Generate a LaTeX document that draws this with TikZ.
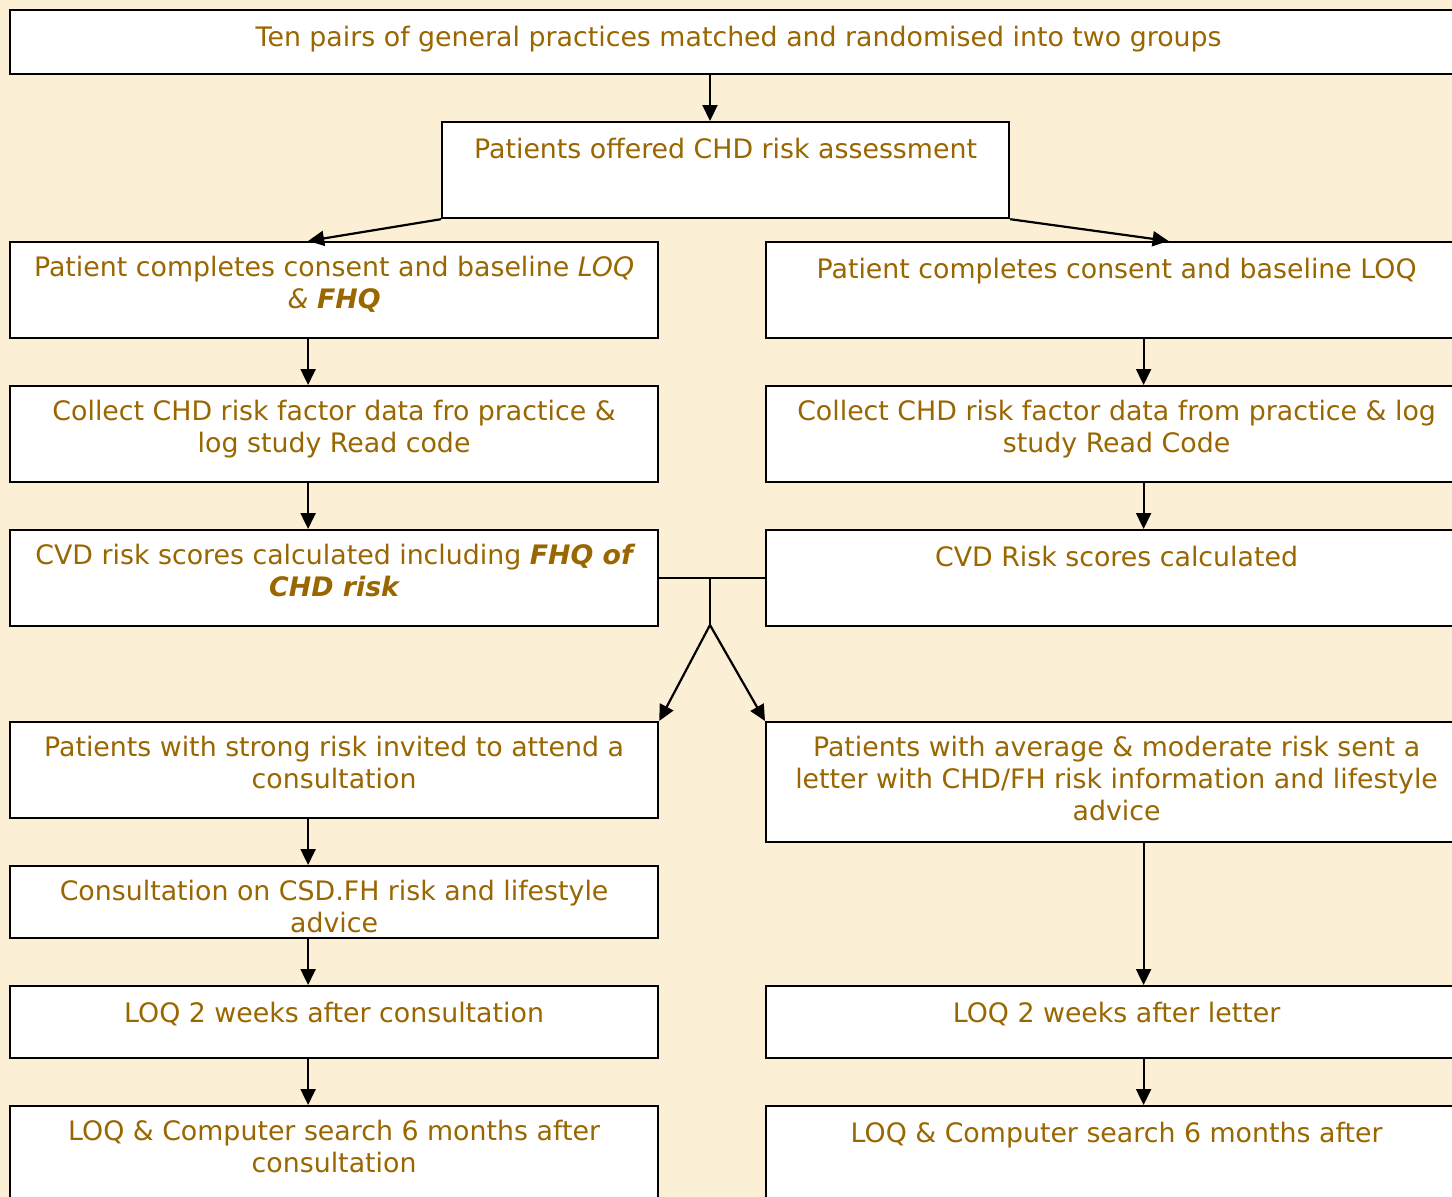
\documentclass[tikz,border=0pt]{standalone}
\usepackage{fontspec}
\setmainfont{DejaVu Sans}
\usepackage{xcolor}
\usetikzlibrary{arrows.meta,positioning}
\definecolor{parch}{RGB}{251,240,214}
\definecolor{gold}{RGB}{153,102,0}

\begin{document}
\begin{tikzpicture}[
      x=1pt, y=-1pt,
      box/.style={rectangle, draw=black, line width=2.2pt, fill=white,
                  anchor=north west, minimum height=96pt, inner sep=0pt},
      lbox/.style={box, minimum width=648pt},
      rbox/.style={box, minimum width=701pt},
      txt/.style={anchor=north, align=center, inner sep=0pt, text=gold,
                  font=\fontsize{26.8}{32}\selectfont, execute at begin node=\strut},
      arr/.style={-{Triangle[length=16pt, width=15pt]}, line width=2.2pt}
    ]
    \useasboundingbox (0,0) rectangle (1452,1197);
    \clip (0,0) rectangle (1452,1197);
    \fill[parch] (0,0) rectangle (1452,1197);
    \coordinate (jn) at (710,577);
    \coordinate (fk) at (710,625);
    % boxes
    \node[box, minimum width=1457pt, minimum height=64pt] (t1) at (9,9) {};
    \node[box, minimum width=567pt] (t2) at (441,121) {};
    \node[lbox] (a1) at (9,241) {};
    \node[rbox] (b1) at (765,241) {};
    \node[lbox] (a2) at (9,385) {};
    \node[rbox] (b2) at (765,385) {};
    \node[lbox] (a3) at (9,529) {};
    \node[rbox] (b3) at (765,529) {};
    \node[lbox] (a4) at (9,721) {};
    \node[rbox, minimum height=120pt] (b4) at (765,721) {};
    \node[lbox, minimum height=72pt] (a5) at (9,865) {};
    \node[lbox, minimum height=72pt] (a6) at (9,985) {};
    \node[rbox, minimum height=72pt] (b5) at (765,985) {};
    \node[lbox, minimum height=120pt] (a7) at (9,1105) {};
    \node[rbox, minimum height=120pt] (b6) at (765,1105) {};
    % connectors
    \draw[arr] (t1.south -| jn) -- (t2.north -| jn);
    \draw[arr] (t2.south west) -- ([xshift=-26pt]a1.north);
    \draw[arr] (t2.south east) -- ([xshift=52pt]b1.north);
    \foreach \u/\v in {a1/a2, a2/a3, a4/a5, a5/a6, a6/a7}
      \draw[arr] ([xshift=-26pt]\u.south) -- ([xshift=-26pt]\v.north);
    \foreach \u/\v in {b1/b2, b2/b3, b4/b5, b5/b6}
      \draw[arr] ([xshift=27pt]\u.south) -- ([xshift=27pt]\v.north);
    \draw[line width=2.2pt] (a3.east) -- (b3.west);
    \draw[line width=2.2pt] (jn) -- (fk);
    \draw[arr] (fk) -- (a4.north east);
    \draw[arr] (fk) -- (b4.north west);
    % texts
    \node[txt] (t1x) at ([yshift=-15pt]t1.north) {Ten pairs of general practices matched and randomised into two groups};
    \node[txt] (t2x) at ([yshift=-15pt]t2.north) {Patients offered CHD risk assessment};
    \node[txt] (a1x) at ([yshift=-15pt]a1.north) {Patient completes consent and baseline {\itshape LOQ}\\{\itshape \& \bfseries FHQ}};
    \node[txt] (b1x) at ([yshift=-15pt]b1.north) {Patient completes consent and baseline LOQ};
    \node[txt] (a2x) at ([yshift=-15pt]a2.north) {Collect CHD risk factor data fro practice \&\\log study Read code};
    \node[txt] (b2x) at ([yshift=-15pt]b2.north) {Collect CHD risk factor data from practice \& log\\study Read Code};
    \node[txt] (a3x) at ([yshift=-15pt]a3.north) {CVD risk scores calculated including {\bfseries\itshape FHQ of}\\{\bfseries\itshape CHD risk}};
    \node[txt] (b3x) at ([yshift=-15pt]b3.north) {CVD Risk scores calculated};
    \node[txt] (a4x) at ([yshift=-15pt]a4.north) {Patients with strong risk invited to attend a\\consultation};
    \node[txt] (b4x) at ([yshift=-15pt]b4.north) {Patients with average \& moderate risk sent a\\letter with CHD/FH risk information and lifestyle\\advice};
    \node[txt] (a5x) at ([yshift=-15pt]a5.north) {Consultation on CSD.FH risk and lifestyle\\advice};
    \node[txt] (a6x) at ([yshift=-15pt]a6.north) {LOQ 2 weeks after consultation};
    \node[txt] (b5x) at ([yshift=-15pt]b5.north) {LOQ 2 weeks after letter};
    \node[txt] (a7x) at ([yshift=-15pt]a7.north) {LOQ \& Computer search 6 months after\\consultation};
    \node[txt] (b6x) at ([yshift=-15pt]b6.north) {LOQ \& Computer search 6 months after};
  \end{tikzpicture}
\end{document}
